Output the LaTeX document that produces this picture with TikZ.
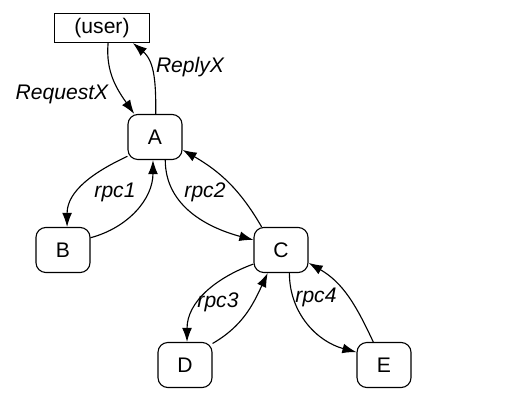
\documentclass[tikz,border=0pt]{standalone}
\usepackage{fontspec}
\setmainfont{Liberation Sans}
\usetikzlibrary{arrows.meta}
\tikzset{
  userbox/.style={draw=black,line width=0.8pt,minimum width=2.375cm,minimum height=0.725cm,inner sep=0pt},
  procbox/.style={draw=black,line width=0.8pt,rounded corners=7pt,minimum width=1.35cm,minimum height=1.125cm,inner sep=0pt},
  call/.style={line width=0.8pt,-{Latex[length=10pt,width=7pt]}},
  lbl/.style={font=\fontsize{15}{18}\selectfont\itshape}
}
\begin{document}
\begin{tikzpicture}[font=\fontsize{15}{18}\selectfont]
\useasboundingbox (0,0) rectangle (13.175,10.25);
\node[userbox] (user) at (2.55,9.55) {(user)};
\node[procbox] (A) at (3.875,6.825) {A};
\node[procbox] (B) at (1.575,4.0) {B};
\node[procbox] (C) at (7.025,4.0) {C};
\node[procbox] (D) at (4.625,1.125) {D};
\node[procbox] (E) at (9.6,1.125) {E};
% user <-> A
\draw[call] (user.-68) to[out=-95,in=125] (A.132);
\draw[call] (A.88) to[out=90,in=-40] (user.-26);
\node[lbl] (reqlbl) at (1.55,7.9) {RequestX};
\node[lbl] (replbl) at (4.75,8.575) {ReplyX};
% A <-> B
\draw[call] (A.215) to[out=205,in=90] (B.80);
\draw[call] (B.24) to[out=15,in=-90] (A.-95);
\node[lbl] (rpcone) at (2.875,5.45) {rpc1};
% A <-> C
\draw[call] (A.-66) to[out=-90,in=165] (C.160);
\draw[call] (C.130) to[out=120,in=-30] (A.-25);
\node[lbl] (rpctwo) at (5.125,5.45) {rpc2};
% C <-> D
\draw[call] (C.207) to[out=200,in=90] (D.85);
\draw[call] (D.38) to[out=30,in=-115] (C.-120);
\node[lbl] (rpcthree) at (5.45,2.7) {rpc3};
% C <-> E
\draw[call] (C.-70) to[out=-90,in=165] (E.155);
\draw[call] (E.115) to[out=115,in=-30] (C.-25);
\node[lbl] (rpcfour) at (7.9,2.825) {rpc4};
\end{tikzpicture}
\end{document}
